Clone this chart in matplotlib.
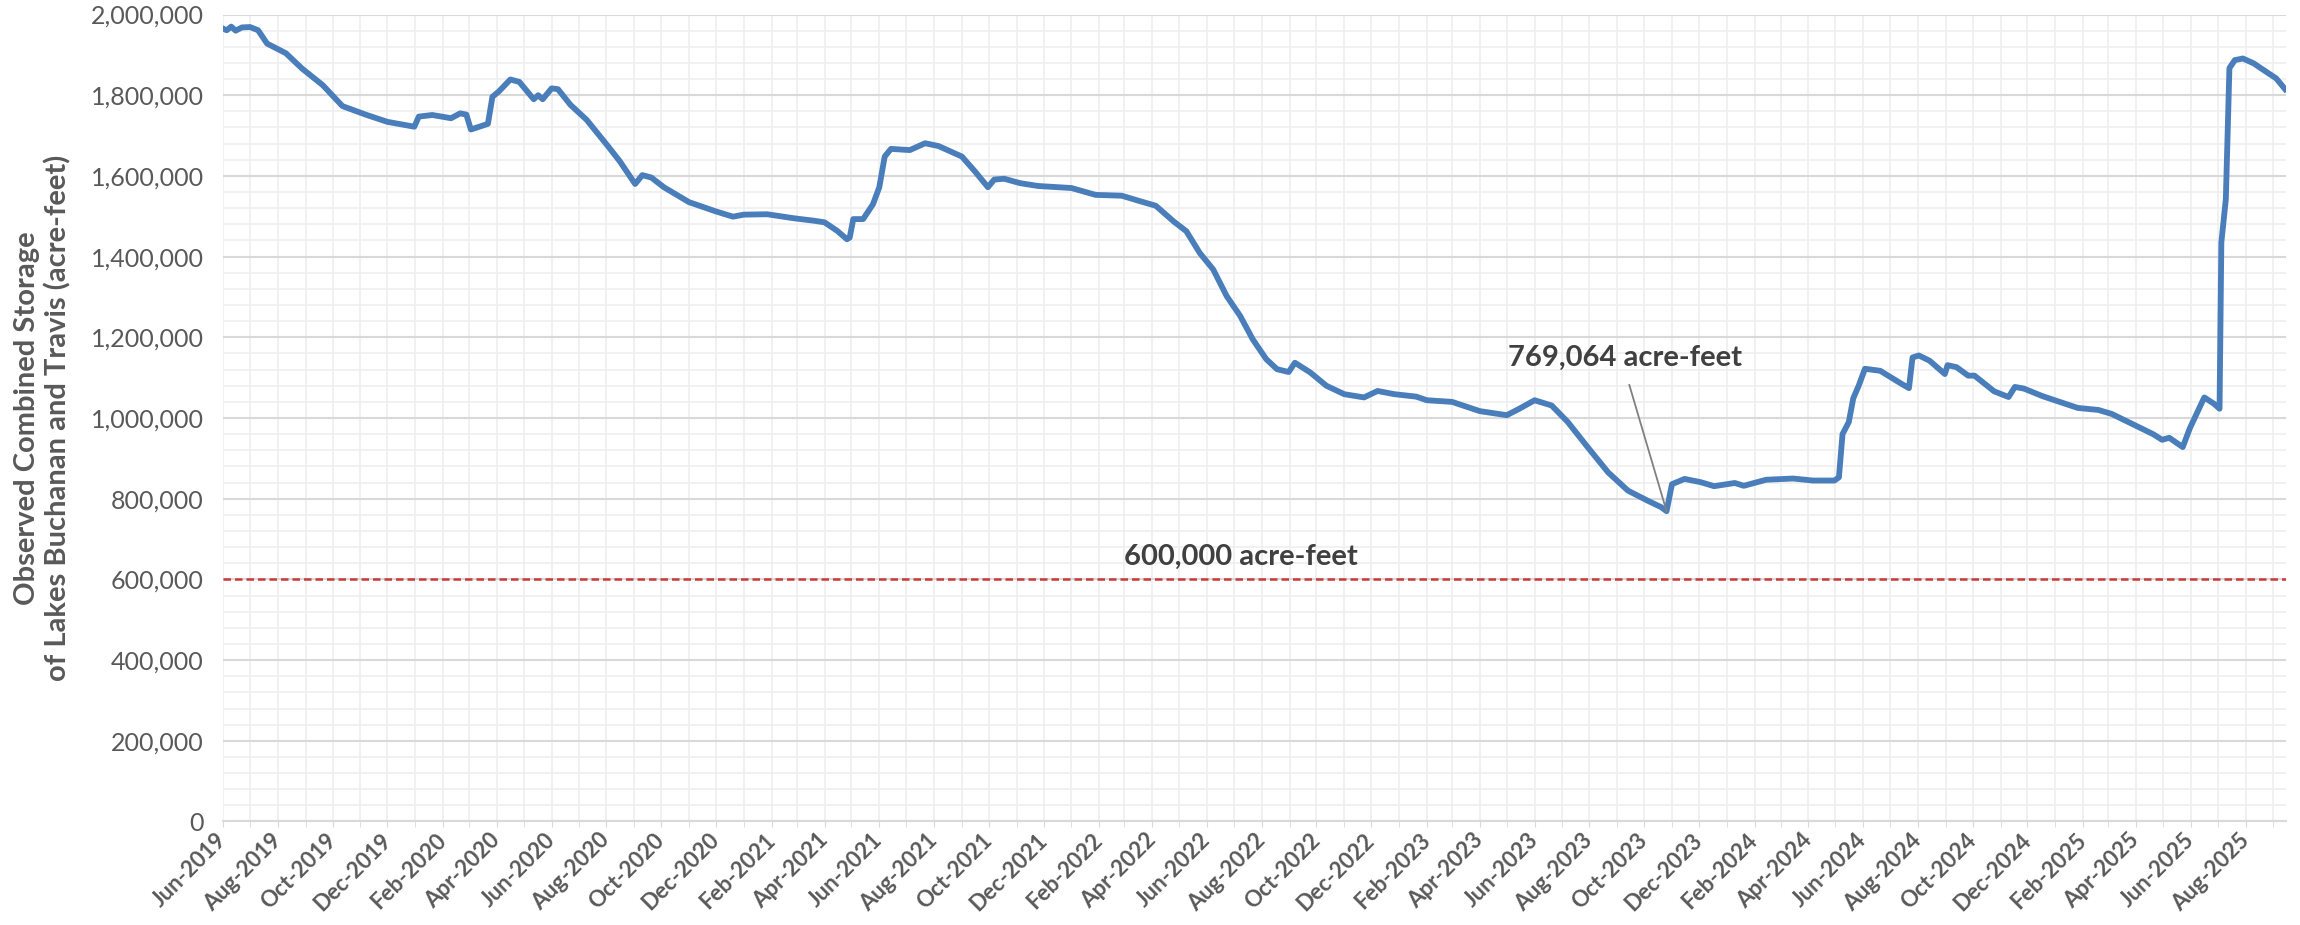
import matplotlib
matplotlib.use('Agg')
import matplotlib.pyplot as plt
import matplotlib.dates as mdates
import matplotlib.ticker as mticker
import pandas as pd

# observed combined storage
dates = [
    '2019-06-01', '2019-06-05', '2019-06-10', '2019-06-15', '2019-06-22', '2019-07-01',
    '2019-07-10', '2019-07-20', '2019-08-10', '2019-08-28', '2019-09-20', '2019-10-12',
    '2019-11-08', '2019-12-01', '2019-12-31', '2020-01-05', '2020-01-20', '2020-02-10',
    '2020-02-20', '2020-02-27', '2020-03-03', '2020-03-22', '2020-03-27', '2020-04-03',
    '2020-04-16', '2020-04-26', '2020-05-12', '2020-05-17', '2020-05-22', '2020-06-01',
    '2020-06-08', '2020-06-22', '2020-07-10', '2020-08-03', '2020-08-16', '2020-09-02',
    '2020-09-10', '2020-09-20', '2020-10-04', '2020-11-01', '2020-12-01', '2020-12-20',
    '2021-01-01', '2021-01-27', '2021-02-26', '2021-03-20', '2021-04-01', '2021-04-15',
    '2021-04-26', '2021-04-29', '2021-05-03', '2021-05-14', '2021-05-25', '2021-06-01',
    '2021-06-07', '2021-06-14', '2021-07-05', '2021-07-22', '2021-08-06', '2021-09-01',
    '2021-09-16', '2021-09-30', '2021-10-07', '2021-10-18', '2021-11-05', '2021-11-25',
    '2022-01-01', '2022-01-28', '2022-02-26', '2022-03-19', '2022-04-05', '2022-04-25',
    '2022-05-09', '2022-05-24', '2022-06-08', '2022-06-23', '2022-07-08', '2022-07-22',
    '2022-08-06', '2022-08-18', '2022-08-31', '2022-09-07', '2022-09-24', '2022-10-12',
    '2022-11-01', '2022-11-23', '2022-12-08', '2022-12-27', '2023-01-20', '2023-02-01',
    '2023-03-01', '2023-04-01', '2023-05-01', '2023-05-15', '2023-06-01', '2023-06-20',
    '2023-07-08', '2023-07-30', '2023-08-22', '2023-09-13', '2023-10-05', '2023-10-20',
    '2023-10-26', '2023-11-01', '2023-11-15', '2023-12-03', '2023-12-18', '2024-01-10',
    '2024-01-20', '2024-02-14', '2024-03-15', '2024-04-06', '2024-04-30', '2024-05-05',
    '2024-05-09', '2024-05-16', '2024-05-21', '2024-05-27', '2024-06-03', '2024-06-20',
    '2024-07-12', '2024-07-22', '2024-07-26', '2024-08-02', '2024-08-14', '2024-08-31',
    '2024-09-03', '2024-09-13', '2024-09-26', '2024-10-03', '2024-10-25', '2024-11-10',
    '2024-11-17', '2024-11-27', '2024-12-18', '2025-01-26', '2025-02-18', '2025-03-05',
    '2025-03-27', '2025-04-20', '2025-04-30', '2025-05-08', '2025-05-23', '2025-05-31',
    '2025-06-09', '2025-06-16', '2025-06-27', '2025-07-03', '2025-07-05', '2025-07-10',
    '2025-07-14', '2025-07-20', '2025-07-29', '2025-08-10', '2025-08-24', '2025-09-04',
    '2025-09-14',
]
storage = [
    1965000, 1961000, 1970000, 1960000, 1968000, 1969000,
    1961000, 1928000, 1904000, 1866000, 1825000, 1773000,
    1751000, 1734000, 1722000, 1747000, 1751000, 1743000,
    1755000, 1752000, 1715000, 1729000, 1796000, 1809000,
    1839000, 1833000, 1790000, 1800000, 1790000, 1817000,
    1815000, 1776000, 1739000, 1673000, 1636000, 1580000,
    1602000, 1596000, 1572000, 1535000, 1512000, 1499000,
    1504000, 1505000, 1495000, 1489000, 1485000, 1464000,
    1443000, 1447000, 1493000, 1493000, 1530000, 1572000,
    1648000, 1667000, 1664000, 1681000, 1674000, 1648000,
    1610000, 1572000, 1591000, 1593000, 1582000, 1575000,
    1570000, 1553000, 1551000, 1537000, 1526000, 1487000,
    1463000, 1409000, 1368000, 1302000, 1253000, 1195000,
    1146000, 1121000, 1114000, 1137000, 1113000, 1080000,
    1059000, 1051000, 1067000, 1059000, 1053000, 1044000,
    1040000, 1017000, 1007000, 1023000, 1044000, 1031000,
    990000, 928000, 865000, 820000, 795000, 779000,
    769064, 836000, 849000, 841000, 831000, 839000,
    832000, 847000, 850000, 845000, 845000, 853000,
    960000, 990000, 1049000, 1080000, 1122000, 1117000,
    1087000, 1074000, 1150000, 1155000, 1142000, 1109000,
    1131000, 1126000, 1105000, 1105000, 1066000, 1052000,
    1077000, 1073000, 1054000, 1025000, 1020000, 1010000,
    986000, 960000, 946000, 951000, 928000, 975000,
    1018000, 1051000, 1035000, 1023000, 1435000, 1542000,
    1867000, 1887000, 1891000, 1879000, 1858000, 1842000,
    1815000,
]

threshold = 600000
min_date = '2023-10-26'
min_value = 769064

plt.rcParams['font.family'] = ['Lato', 'DejaVu Sans']

fig = plt.figure(figsize=(23, 9.25), dpi=100)
ax = fig.add_axes([0.097, 0.1119, 0.8969, 0.8724])

x = pd.to_datetime(dates)
ax.plot(x, storage, color='#4A7EBB', lw=4.2, solid_joinstyle='round', zorder=3)
ax.axhline(threshold, color='#C93A3A', lw=1.8, ls=(0, (3, 1.6)), zorder=2)

ax.set_ylim(0, 2000000)
ax.set_xlim(pd.Timestamp('2019-06-01'), pd.Timestamp('2025-09-15'))

ax.yaxis.set_major_locator(mticker.MultipleLocator(200000))
ax.yaxis.set_minor_locator(mticker.MultipleLocator(40000))
ax.yaxis.set_major_formatter(mticker.StrMethodFormatter('{x:,.0f}'))
ax.xaxis.set_major_locator(mdates.MonthLocator(bymonth=[2, 4, 6, 8, 10, 12]))
ax.xaxis.set_minor_locator(mdates.MonthLocator())
ax.xaxis.set_major_formatter(mdates.DateFormatter('%b-%Y'))

ax.set_axisbelow(True)
ax.grid(which='minor', color='#EFEFEF', lw=1.2)
ax.grid(which='major', axis='x', color='#EFEFEF', lw=1.2)
ax.grid(which='major', axis='y', color='#D9D9D9', lw=1.5)

for s in ['top', 'right', 'left']:
    ax.spines[s].set_visible(False)
ax.spines['bottom'].set_color('#D9D9D9')
ax.spines['bottom'].set_linewidth(1.5)

ax.tick_params(axis='y', which='both', length=0, pad=14, labelsize=18, labelcolor='#595959')
ax.tick_params(axis='x', which='both', length=4, color='#D9D9D9', pad=7, labelsize=16,
               labelcolor='#595959')
plt.setp(ax.get_xticklabels(), rotation=45, ha='right', va='center',
         rotation_mode='anchor', fontweight='bold')

ax.set_ylabel('Observed Combined Storage\nof Lakes Buchanan and Travis (acre-feet)',
              fontsize=21, fontweight='bold', color='#595959', labelpad=14)

ax.text(pd.Timestamp('2022-07-09'), 657000, '600,000 acre-feet', ha='center', va='center',
        fontsize=21, fontweight='bold', color='#404040')
ax.annotate('769,064 acre-feet', xy=(pd.Timestamp(min_date), min_value),
            xytext=(pd.Timestamp('2023-09-10'), 1148000), ha='center', va='center',
            fontsize=21, fontweight='bold', color='#404040',
            arrowprops=dict(arrowstyle='-', color='#808080', lw=1.3, relpos=(0.5, 0),
                            shrinkA=8, shrinkB=0))

fig.savefig('out.png', dpi=100)
